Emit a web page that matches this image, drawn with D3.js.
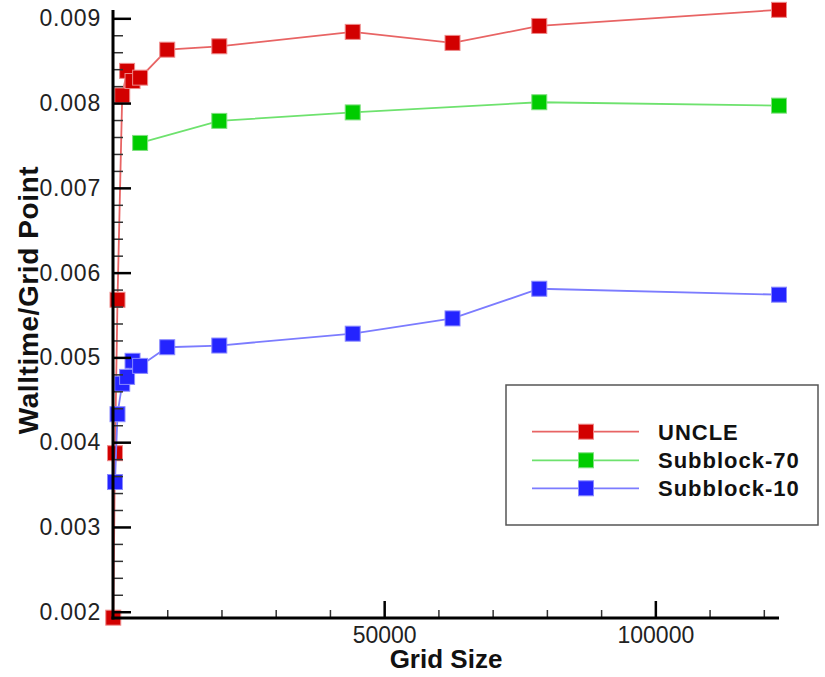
<!DOCTYPE html>
<html>
<head>
<meta charset="utf-8">
<script src="https://cdn.jsdelivr.net/npm/d3@7"></script>
<style>
  html, body { margin: 0; padding: 0; background: #ffffff; }
  svg { display: block; font-family: "Liberation Sans", Arial, sans-serif; }
</style>
</head>
<body>
<svg id="chart" width="825" height="677"></svg>
<script>
// ---- data ----
const gridSize   = [50, 370, 830, 1700, 2600, 3600, 5000, 10000, 19600, 44200, 62600, 78600, 122800];
const uncle      = [0.00193, 0.00387, 0.00568, 0.00809, 0.00838, 0.00826, 0.00830, 0.00863, 0.00867, 0.00884, 0.00871, 0.00891, 0.00910];
const subblock70 = [null, null, null, null, null, null, 0.00753, null, 0.00779, 0.00789, null, 0.00801, 0.00797];
const subblock10 = [null, 0.00353, 0.00433, 0.00469, 0.00477, 0.00496, 0.00490, 0.00512, 0.00514, 0.00528, 0.00546, 0.00581, 0.00574];
const seriesNames = ["UNCLE", "Subblock-70", "Subblock-10"];
const yMajorTicks = [0.002, 0.003, 0.004, 0.005, 0.006, 0.007, 0.008, 0.009];
const xMajorTicks = [50000, 100000];
const xTitle = "Grid Size";
const yTitle = "Walltime/Grid Point";

const seriesValues = [uncle, subblock70, subblock10];
const lineColors   = ["#e86464", "#6ee26e", "#7c7cff"];
const markColors   = ["#d20000", "#00cc00", "#2424ff"];
const markStroke   = ["#ee8a8a", "#7fe07f", "#8a8aff"];

const svg = d3.select("#chart");

const x = d3.scaleLinear().domain([0, 122800]).range([113, 779]);
const y = d3.scaleLinear().domain([0.001926, 0.009098]).range([618, 10]);

// ---- series ----
const line = d3.line()
  .defined(d => d.v != null)
  .x(d => x(d.g))
  .y(d => y(d.v));

const M = 15;
seriesValues.forEach((vals, i) => {
  const pts = gridSize.map((g, k) => ({ g, v: vals[k] })).filter(d => d.v != null);
  const grp = svg.append("g");
  grp.append("path")
    .datum(pts)
    .attr("fill", "none")
    .attr("stroke", lineColors[i])
    .attr("stroke-width", 1.8)
    .attr("d", line);
  grp.selectAll("rect")
    .data(pts)
    .join("rect")
    .attr("x", d => x(d.g) - M / 2)
    .attr("y", d => y(d.v) - M / 2)
    .attr("width", M)
    .attr("height", M)
    .attr("fill", markColors[i])
    .attr("stroke", markStroke[i])
    .attr("stroke-width", 1);
});

// ---- axes ----
const fontSize = 23;
const yMinor = d3.range(0.002, 0.00905, 0.0002).filter(v => Math.abs(Math.round(v * 1000) - v * 1000) > 1e-6);
const xMinor = d3.range(10000, 122001, 10000).filter(v => v % 50000 !== 0);

// Y minor
svg.append("g")
  .attr("transform", "translate(113,0)")
  .call(d3.axisLeft(y).tickValues(yMinor).tickSize(-10).tickSizeOuter(0).tickFormat(""))
  .call(g => g.select(".domain").remove())
  .call(g => g.selectAll(".tick line").attr("stroke", "#333").attr("stroke-width", 1.5));

// Y major
svg.append("g")
  .attr("transform", "translate(113,0)")
  .call(d3.axisLeft(y).tickValues(yMajorTicks).tickSize(-18).tickSizeOuter(0).tickPadding(12).tickFormat(d3.format(".3f")))
  .call(g => g.select(".domain").remove())
  .call(g => g.selectAll(".tick line").attr("stroke", "#000").attr("stroke-width", 2.5))
  .call(g => g.selectAll(".tick text")
    .attr("font-size", fontSize)
    .attr("font-family", "'Liberation Sans', Arial, sans-serif")
    .attr("letter-spacing", 0.8)
    .attr("fill", "#222"));

// X minor
svg.append("g")
  .attr("transform", "translate(0,618)")
  .call(d3.axisBottom(x).tickValues(xMinor).tickSize(-8).tickSizeOuter(0).tickFormat(""))
  .call(g => g.select(".domain").remove())
  .call(g => g.selectAll(".tick line").attr("stroke", "#333").attr("stroke-width", 1.5));

// X major
svg.append("g")
  .attr("transform", "translate(0,618)")
  .call(d3.axisBottom(x).tickValues(xMajorTicks).tickSize(-17).tickSizeOuter(0).tickPadding(9).tickFormat(d3.format("d")))
  .call(g => g.select(".domain").remove())
  .call(g => g.selectAll(".tick line").attr("stroke", "#000").attr("stroke-width", 2.5))
  .call(g => g.selectAll(".tick text")
    .attr("font-size", fontSize)
    .attr("font-family", "'Liberation Sans', Arial, sans-serif")
    .attr("fill", "#222"));

// axis lines
svg.append("line")
  .attr("x1", x.range()[0]).attr("x2", x.range()[0])
  .attr("y1", y.range()[1]).attr("y2", y.range()[0] + 1.5)
  .attr("stroke", "#000").attr("stroke-width", 3);
svg.append("line")
  .attr("x1", x.range()[0] - 1.5).attr("x2", x.range()[1])
  .attr("y1", y.range()[0]).attr("y2", y.range()[0])
  .attr("stroke", "#000").attr("stroke-width", 3);

// axis titles
svg.append("text")
  .attr("x", 446).attr("y", 668)
  .attr("text-anchor", "middle")
  .attr("font-size", 26).attr("font-weight", "bold")
  .attr("fill", "#111")
  .text(xTitle);

svg.append("text")
  .attr("transform", "translate(38,300) rotate(-90)")
  .attr("text-anchor", "middle")
  .attr("font-size", 28).attr("font-weight", "bold")
  .attr("letter-spacing", 0.6)
  .attr("fill", "#111")
  .text(yTitle);

// ---- legend ----
const lg = svg.append("g");
lg.append("rect")
  .attr("x", 506).attr("y", 385)
  .attr("width", 312).attr("height", 140)
  .attr("fill", "#fff")
  .attr("stroke", "#555").attr("stroke-width", 1.5);
const rowsY = [431.7, 460.3, 488.3];
seriesNames.forEach((name, i) => {
  lg.append("line")
    .attr("x1", 532).attr("x2", 639)
    .attr("y1", rowsY[i]).attr("y2", rowsY[i])
    .attr("stroke", lineColors[i]).attr("stroke-width", 1.8);
  lg.append("rect")
    .attr("x", 586 - M / 2).attr("y", rowsY[i] - M / 2)
    .attr("width", M).attr("height", M)
    .attr("fill", markColors[i]).attr("stroke", markStroke[i]).attr("stroke-width", 1);
  lg.append("text")
    .attr("x", 658).attr("y", rowsY[i])
    .attr("dy", "0.36em")
    .attr("font-size", 22).attr("font-weight", "bold")
    .attr("letter-spacing", 1)
    .attr("fill", "#111")
    .text(name);
});
</script>
</body>
</html>
